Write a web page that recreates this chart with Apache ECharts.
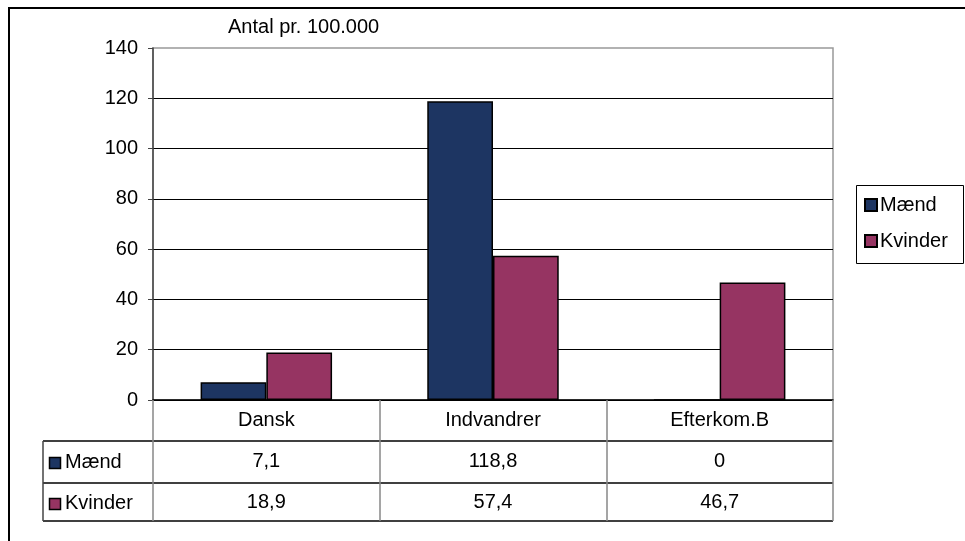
<!DOCTYPE html>
<html>
<head>
<meta charset="utf-8">
<script src="https://cdn.jsdelivr.net/npm/echarts@6/dist/echarts.min.js"></script>
<style>
  html, body { margin: 0; padding: 0; background: #fff; }
  #chart { width: 965px; height: 541px; }
</style>
</head>
<body>
<div id="chart"></div>
<script>
  // data
  var categories = ['Dansk', 'Indvandrer', 'Efterkom.B']
  var seriesNames = ['Mænd', 'Kvinder']
  var maend = [7.1, 118.8, 0]
  var kvinder = [18.9, 57.4, 46.7]
  var yTicks = [0, 20, 40, 60, 80, 100, 120, 140]
  var unitTitle = 'Antal pr. 100.000'

  var colors = ['#1d3562', '#963462']
  var font = 'Liberation Sans, Arial, sans-serif'
  var fs = 20

  function fmt(v) {
    return String(v).replace('.', ',')
  }

  var chart = echarts.init(document.getElementById('chart'))

  chart.setOption({
    animation: false,
    color: colors,
    textStyle: { fontFamily: font, color: '#000' },
    grid: {
      left: 153,
      right: 132,
      top: 48,
      bottom: 141,
      show: true,
      borderColor: '#999',
      borderWidth: 1.5
    },
    legend: {
      orient: 'vertical',
      left: 864,
      top: 195,
      padding: 0,
      itemGap: 16,
      itemWidth: 12,
      itemHeight: 12,
      icon: 'rect',
      data: seriesNames,
      textStyle: { fontFamily: font, fontSize: fs, color: '#000', padding: [0, 0, 0, -2] }
    },
    xAxis: {
      type: 'category',
      data: categories,
      axisLine: { show: true, lineStyle: { color: '#000', width: 1.5 } },
      axisTick: { show: true, interval: 0, length: 121, lineStyle: { color: '#888', width: 1.5 } },
      axisLabel: {
        interval: 0,
        margin: 0,
        fontFamily: font,
        fontSize: fs,
        color: '#000',
        lineHeight: 41,
        formatter: function (value, idx) {
          return [value, fmt(maend[idx]), fmt(kvinder[idx])].join('\n')
        }
      }
    },
    yAxis: {
      type: 'value',
      min: yTicks[0],
      max: yTicks[yTicks.length - 1],
      interval: yTicks[1] - yTicks[0],
      axisLine: { show: true, lineStyle: { color: '#444', width: 1.5 } },
      axisTick: { show: true, length: 5, lineStyle: { color: '#444' } },
      axisLabel: { margin: 15, fontFamily: font, fontSize: fs, color: '#000' },
      splitLine: { show: true, showMaxLine: false, lineStyle: { color: '#000', width: 1 } }
    },
    series: [
      {
        name: seriesNames[0],
        type: 'bar',
        data: maend,
        barGap: '0%',
        barCategoryGap: '42%',
        itemStyle: { color: colors[0], borderColor: '#000', borderWidth: 1.5 }
      },
      {
        name: seriesNames[1],
        type: 'bar',
        data: kvinder,
        itemStyle: { color: colors[1], borderColor: '#000', borderWidth: 1.5 }
      }
    ],
    graphic: [
      // outer frame
      { type: 'rect', shape: { x: 9, y: 8, width: 1000, height: 600 }, style: { fill: 'none', stroke: '#000', lineWidth: 2 } },
      // unit title
      { type: 'text', left: 228, top: 17, style: { text: unitTitle, font: fs + 'px ' + font, fill: '#000' } },
      // legend frame
      { type: 'rect', shape: { x: 856.5, y: 185.5, width: 107, height: 78 }, style: { fill: 'none', stroke: '#000', lineWidth: 1 } },
      // data table lines
      { type: 'line', shape: { x1: 43, y1: 441, x2: 833, y2: 441 }, style: { stroke: '#000', lineWidth: 1.5 } },
      { type: 'line', shape: { x1: 43, y1: 483, x2: 833, y2: 483 }, style: { stroke: '#000', lineWidth: 1.5 } },
      { type: 'line', shape: { x1: 43, y1: 521, x2: 833, y2: 521 }, style: { stroke: '#000', lineWidth: 1.5 } },
      { type: 'line', shape: { x1: 43, y1: 441, x2: 43, y2: 521 }, style: { stroke: '#444', lineWidth: 1.5 } },
      // row keys
      { type: 'rect', shape: { x: 49.5, y: 457.5, width: 11, height: 11 }, style: { fill: colors[0], stroke: '#000', lineWidth: 1.5 } },
      { type: 'text', left: 65, top: 452, style: { text: seriesNames[0], font: fs + 'px ' + font, fill: '#000' } },
      { type: 'rect', shape: { x: 49.5, y: 498.5, width: 11, height: 11 }, style: { fill: colors[1], stroke: '#000', lineWidth: 1.5 } },
      { type: 'text', left: 65, top: 493, style: { text: seriesNames[1], font: fs + 'px ' + font, fill: '#000' } }
    ]
  })
</script>
</body>
</html>
